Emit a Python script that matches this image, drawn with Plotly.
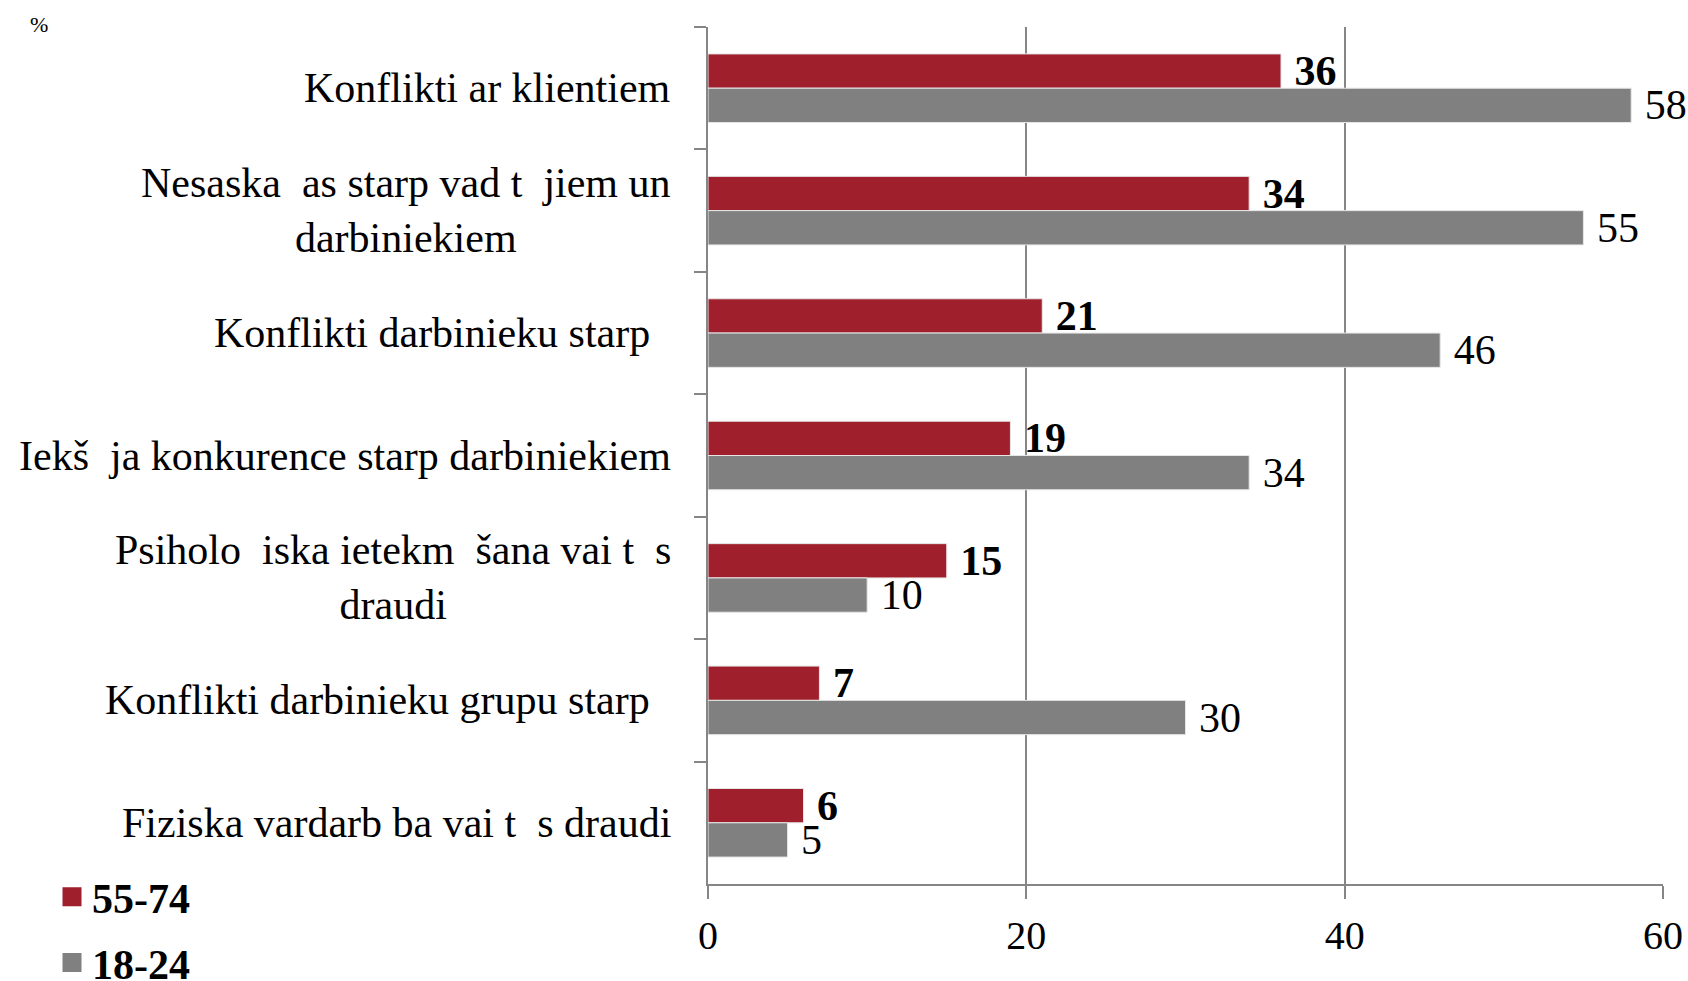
import plotly.graph_objects as go

NB = "\u00a0"
categories = [
    "Konflikti ar klientiem",
    "Nesaska" + NB * 2 + "as starp vad t" + NB * 2 + "jiem un<br>darbiniekiem",
    "Konflikti darbinieku starp" + NB * 2,
    "Iekš" + NB * 2 + "ja konkurence starp darbiniekiem",
    "Psiholo" + NB * 2 + "iska ietekm" + NB * 2 + "šana vai t" + NB * 2 + "s<br>draudi",
    "Konflikti darbinieku grupu starp" + NB * 2,
    "Fiziska vardarb" + NB + "ba vai t" + NB * 2 + "s draudi",
]
cat_ids = ["c1", "c2", "c3", "c4", "c5", "c6", "c7"]
values_55_74 = [36, 34, 21, 19, 15, 7, 6]
values_18_24 = [58, 55, 46, 34, 10, 30, 5]
series_names = ["55-74", "18-24"]
x_ticks = [0, 20, 40, 60]

FONT = "Liberation Serif"
RED = "#A01F2C"
GREY = "#808080"

W, H = 1688, 981
ML, MR, MT, MB = 708, 25, 27, 97
PW, PH = W - ML - MR, H - MT - MB

fig = go.Figure()
fig.add_trace(go.Bar(
    y=cat_ids, x=values_55_74, orientation="h", name=series_names[0],
    marker=dict(color=RED, line=dict(color="#e6e6e6", width=1)),
    text=values_55_74, texttemplate=NB + "%{x}", textposition="outside",
    textfont=dict(family=FONT, size=42, color="black", weight="bold"),
    cliponaxis=False, constraintext="none", showlegend=False,
))
fig.add_trace(go.Bar(
    y=cat_ids, x=values_18_24, orientation="h", name=series_names[1],
    marker=dict(color=GREY, line=dict(color="#e6e6e6", width=1)),
    text=values_18_24, texttemplate=NB + "%{x}", textposition="outside",
    textfont=dict(family=FONT, size=42, color="black"),
    cliponaxis=False, constraintext="none", showlegend=False,
))
# legend entries (no data points) with larger square swatches
for nm, col in zip(series_names, [RED, GREY]):
    fig.add_trace(go.Scatter(
        x=[None], y=[None], mode="markers", name=nm, legendgroup=nm,
        marker=dict(symbol="square", size=16, color=col,
                    line=dict(color=col, width=3)),
        showlegend=True,
    ))

annotations = []
for cid, lab in zip(cat_ids, categories):
    annotations.append(dict(
        x=0, y=cid, xref="x", yref="y", text=lab, showarrow=False,
        xanchor="right", yanchor="middle", align="center", xshift=-35,
        font=dict(family=FONT, size=42, color="black"),
    ))
annotations.append(dict(
    x=(39 - ML) / PW, y=(H - MB - 24) / PH, xref="paper", yref="paper",
    text="%", showarrow=False, xanchor="center", yanchor="middle",
    font=dict(family=FONT, size=22, color="black"),
))

fig.update_layout(
    width=W, height=H,
    margin=dict(l=ML, r=MR, t=MT, b=MB, autoexpand=False),
    paper_bgcolor="white", plot_bgcolor="white",
    barmode="group", bargap=0.44, bargroupgap=0,
    font=dict(family=FONT, color="black"),
    showlegend=True,
    legend=dict(
        x=(52 - ML) / PW, y=((H - MB) - 863) / PH,
        xanchor="left", yanchor="top",
        font=dict(family=FONT, size=42, color="black", weight="bold"),
        traceorder="grouped", tracegroupgap=8, bgcolor="rgba(0,0,0,0)",
        itemwidth=30,
    ),
    annotations=annotations,
)

fig.update_xaxes(
    range=[0, 60], tickvals=x_ticks, ticktext=[str(v) for v in x_ticks],
    showgrid=True, gridcolor="#868686", gridwidth=1.5,
    showline=True, linecolor="#868686", linewidth=2,
    ticks="outside", ticklen=13, tickcolor="#868686", tickwidth=1.5,
    tickfont=dict(family=FONT, size=40, color="black"),
    ticklabelstandoff=2, zeroline=False,
)
fig.update_yaxes(
    categoryorder="array", categoryarray=cat_ids, autorange="reversed",
    showticklabels=False, showgrid=False,
    showline=True, linecolor="#868686", linewidth=2,
    ticks="outside", ticklen=12, tickcolor="#868686", tickwidth=1.5,
    tickson="boundaries",
)

fig.write_html(
    "out.html",
    config={"displayModeBar": False},
    post_script="document.body.style.margin='0';document.body.style.overflow='hidden';",
)
